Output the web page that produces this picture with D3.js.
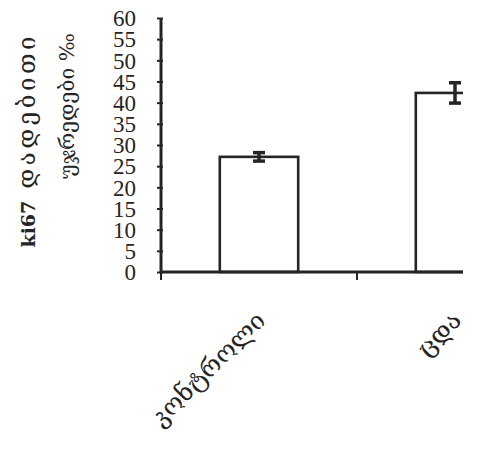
<!DOCTYPE html>
<html>
<head>
<meta charset="utf-8">
<script src="https://cdn.jsdelivr.net/npm/d3@7"></script>
<style>
  html, body { margin: 0; padding: 0; background: #fff; }
  svg { display: block; }
</style>
</head>
<body>
<svg id="chart" width="477" height="470"></svg>
<script>
const categories = ["კონტროლი", "ცდა"];
const values = [27.2, 42.3];
const errors = [1.0, 2.4];
const yTicks = [0, 5, 10, 15, 20, 25, 30, 35, 40, 45, 50, 55, 60];
const yTitleMarker = "ki67";
const yTitleLine1 = "დადებითი";
const yTitleLine2 = "უჯრედები ‰";

const ink = "#252525";
const svg = d3.select("#chart");

const x0 = 161, yBottom = 272, yTop = 18, clipRight = 463;
const y = d3.scaleLinear().domain([0, 60]).range([yBottom, yTop]);
const x = d3.scaleBand().domain(categories).range([x0, x0 + 2 * 196]).paddingInner(0.6).paddingOuter(0.3);

svg.append("defs").append("clipPath").attr("id", "clip")
  .append("rect").attr("x", 0).attr("y", 0).attr("width", clipRight).attr("height", 470);

const g = svg.append("g").attr("clip-path", "url(#clip)");

// bars
g.selectAll("rect.bar").data(values).join("rect")
  .attr("class", "bar")
  .attr("x", (d, i) => x(categories[i]))
  .attr("y", d => y(d))
  .attr("width", x.bandwidth())
  .attr("height", d => y(0) - y(d))
  .attr("fill", "#fff")
  .attr("stroke", ink)
  .attr("stroke-width", 2.6);

// error bars
const eb = g.selectAll("g.err").data(values).join("g").attr("class", "err");
eb.append("line")
  .attr("x1", (d, i) => x(categories[i]) + x.bandwidth() / 2)
  .attr("x2", (d, i) => x(categories[i]) + x.bandwidth() / 2)
  .attr("y1", (d, i) => y(d + errors[i]))
  .attr("y2", (d, i) => y(d - errors[i]))
  .attr("stroke", ink).attr("stroke-width", 3.5);
[1, -1].forEach(s => {
  eb.append("line")
    .attr("x1", (d, i) => x(categories[i]) + x.bandwidth() / 2 - 6)
    .attr("x2", (d, i) => x(categories[i]) + x.bandwidth() / 2 + 6)
    .attr("y1", (d, i) => y(d + s * errors[i]))
    .attr("y2", (d, i) => y(d + s * errors[i]))
    .attr("stroke", ink).attr("stroke-width", 3.5);
});

// x axis line + ticks at band boundaries
g.append("line").attr("x1", x0).attr("x2", clipRight).attr("y1", yBottom).attr("y2", yBottom)
  .attr("stroke", ink).attr("stroke-width", 3);
const bounds = [x.range()[0], (x.range()[0] + x.range()[1]) / 2];
g.selectAll("line.xt").data(bounds).join("line").attr("class", "xt")
  .attr("x1", d => d).attr("x2", d => d).attr("y1", yBottom).attr("y2", yBottom + 8)
  .attr("stroke", ink).attr("stroke-width", 2);

// y axis
const yAxis = d3.axisLeft(y).tickValues(yTicks).tickSize(4).tickPadding(21);
const ya = svg.append("g").attr("transform", `translate(${x0},0)`).call(yAxis);
ya.select(".domain").attr("stroke", ink).attr("stroke-width", 3).attr("d", `M0,${yTop}V${yBottom}`);
ya.selectAll(".tick line").attr("stroke", ink).attr("stroke-width", 2).attr("x2", -4).attr("x1", 2);
ya.selectAll(".tick text")
  .attr("fill", ink)
  .attr("font-family", "'Liberation Serif', serif")
  .attr("font-size", 23)
  .attr("dy", "0.34em");

// x labels
svg.selectAll("text.xl").data(categories).join("text").attr("class", "xl")
  .attr("transform", d => `translate(${x(d) + x.bandwidth() / 2 + 8},${322}) rotate(-45)`)
  .attr("text-anchor", "end")
  .attr("font-family", "'DejaVu Serif', serif")
  .attr("font-size", 25)
  .attr("fill", ink)
  .text(d => d);

// y title line 1
const t1 = svg.append("text")
  .attr("transform", `translate(35,33) rotate(-90)`)
  .attr("text-anchor", "end")
  .attr("font-family", "'DejaVu Serif', serif")
  .attr("fill", ink);
t1.append("tspan").attr("font-size", 19).attr("font-weight", "bold").text(yTitleMarker);
t1.append("tspan").attr("dx", 12).attr("font-size", 24).attr("letter-spacing", 3.5).text(yTitleLine1);

// y title line 2
svg.append("text")
  .attr("transform", `translate(74,33) rotate(-90)`)
  .attr("text-anchor", "end")
  .attr("font-family", "'DejaVu Serif', serif")
  .attr("font-size", 21)
  .attr("fill", ink)
  .text(yTitleLine2);
</script>
</body>
</html>
